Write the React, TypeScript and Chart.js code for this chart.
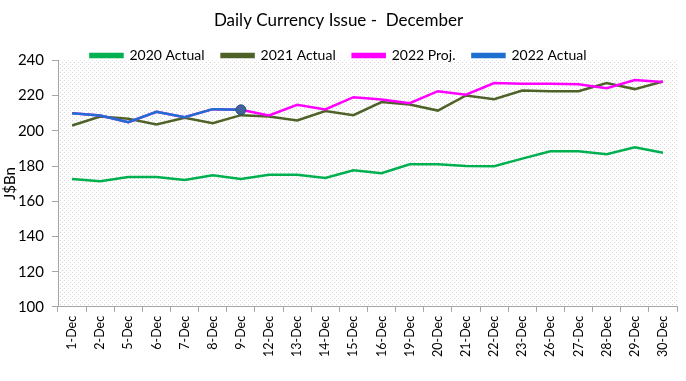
import React, { useEffect, useRef } from "react";
import { Chart, registerables } from "chart.js";

Chart.register(...registerables);

const categories = ["1-Dec","2-Dec","5-Dec","6-Dec","7-Dec","8-Dec","9-Dec","12-Dec","13-Dec","14-Dec","15-Dec","16-Dec","19-Dec","20-Dec","21-Dec","22-Dec","23-Dec","26-Dec","27-Dec","28-Dec","29-Dec","30-Dec"];
const actual2020 = [172.7,171.3,173.8,173.8,172.1,174.7,172.7,175.1,175.1,173.2,177.6,175.9,181.0,181.0,180.0,179.9,184.2,188.4,188.4,186.7,190.7,187.6];
const actual2021 = [203.0,208.1,206.8,203.6,207.4,204.3,208.9,208.1,205.9,211.2,208.9,216.3,215.0,211.5,220.1,218.0,222.9,222.5,222.5,227.1,223.7,228.0];
const proj2022 = [210.0,208.7,204.9,210.8,207.7,212.3,211.9,208.7,214.8,212.1,219.1,217.8,215.7,222.5,220.5,227.1,226.7,226.7,226.5,224.2,228.8,227.7];
const actual2022 = [210.0,208.7,204.9,210.8,207.7,212.3,211.9];
const yTicks = [100,120,140,160,180,200,220,240];

const FONT = "Lato, 'Liberation Sans', sans-serif";

const patternPlugin = {
  id: "dotPattern",
  beforeDraw(chart: any) {
    const { ctx, chartArea } = chart;
    const tile = document.createElement("canvas");
    tile.width = 4;
    tile.height = 4;
    const t = tile.getContext("2d")!;
    t.fillStyle = "#ffffff";
    t.fillRect(0, 0, 4, 4);
    t.fillStyle = "#d6d6d6";
    t.fillRect(0, 0, 1, 1);
    t.fillRect(2, 2, 1, 1);
    const pat = ctx.createPattern(tile, "repeat");
    ctx.save();
    ctx.fillStyle = pat;
    ctx.fillRect(chartArea.left, chartArea.top, chartArea.right - chartArea.left, chartArea.bottom - chartArea.top);
    ctx.restore();
  },
};

export default function App() {
  const ref = useRef<HTMLCanvasElement | null>(null);
  useEffect(() => {
    document.body.style.margin = "0";
    const chart = new Chart(ref.current!, {
      type: "line",
      data: {
        labels: categories,
        datasets: [
          { label: "2020 Actual", data: actual2020, borderColor: "#00b050", backgroundColor: "#00b050", borderWidth: 2.5, pointRadius: 0, order: 4, tension: 0 },
          { label: "2021 Actual", data: actual2021, borderColor: "#4f6228", backgroundColor: "#4f6228", borderWidth: 2.5, pointRadius: 0, order: 3, tension: 0 },
          { label: "2022 Proj.", data: proj2022, borderColor: "#ff00ff", backgroundColor: "#ff00ff", borderWidth: 2.5, pointRadius: 0, order: 2, tension: 0 },
          {
            label: "2022 Actual", data: actual2022, borderColor: "#1f6fd0", backgroundColor: "#1f6fd0", borderWidth: 2.5, order: 1, tension: 0,
            pointRadius: (c: any) => (c.dataIndex === actual2022.length - 1 ? 5 : 0),
            pointBackgroundColor: "#40649a", pointBorderColor: "#2d4c7c", pointBorderWidth: 1,
          },
        ],
      },
      options: {
        animation: false,
        responsive: false,
        layout: { padding: { left: 0, right: 9, top: 0, bottom: 20 } },
        plugins: {
          title: { display: true, text: "Daily Currency Issue -  December", color: "#000", font: { family: FONT, size: 17, weight: "normal" }, padding: { top: 10, bottom: 1 } },
          legend: {
            position: "top",
            labels: {
              color: "#000",
              font: { family: FONT, size: 14 },
              boxWidth: 32,
              boxHeight: 3,
              padding: 17,
              sort: (a: any, b: any) => a.datasetIndex - b.datasetIndex,
            },
          },
          tooltip: { enabled: false },
        },
        scales: {
          x: {
            offset: true,
            grid: { offset: true, drawOnChartArea: false, tickLength: 5, color: "#a6a6a6" },
            border: { color: "#a6a6a6" },
            ticks: { color: "#000", font: { family: FONT, size: 12.5 }, maxRotation: 90, minRotation: 90, autoSkip: false, padding: 4 },
          },
          y: {
            min: 100,
            max: 240,
            afterBuildTicks: (s: any) => { s.ticks = yTicks.map((v) => ({ value: v })); },
            afterFit: (s: any) => { s.width = 58; },
            grid: { drawOnChartArea: false, tickLength: 6, color: "#a6a6a6" },
            border: { color: "#a6a6a6" },
            ticks: { color: "#000", font: { family: FONT, size: 15 }, padding: 8 },
            title: { display: true, text: "J$Bn", color: "#000", font: { family: FONT, size: 15 }, padding: { top: 1, bottom: 0 } },
          },
        },
      },
      plugins: [patternPlugin],
    } as any);
    const legend: any = (chart as any).legend;
    if (legend) {
      const SHRINK = 12;
      const origFit = legend.fit.bind(legend);
      const origDraw = legend.draw.bind(legend);
      legend.fit = function () {
        origFit();
        this.height = Math.max(0, this.height - SHRINK);
      };
      legend.draw = function () {
        this.height += SHRINK;
        this.bottom += SHRINK;
        origDraw();
        this.height -= SHRINK;
        this.bottom -= SHRINK;
      };
      chart.update();
    }
    return () => chart.destroy();
  }, []);
  return (
    <div style={{ width: 686, height: 381 }}>
      <canvas ref={ref} width={686} height={381} style={{ display: "block" }} />
    </div>
  );
}
